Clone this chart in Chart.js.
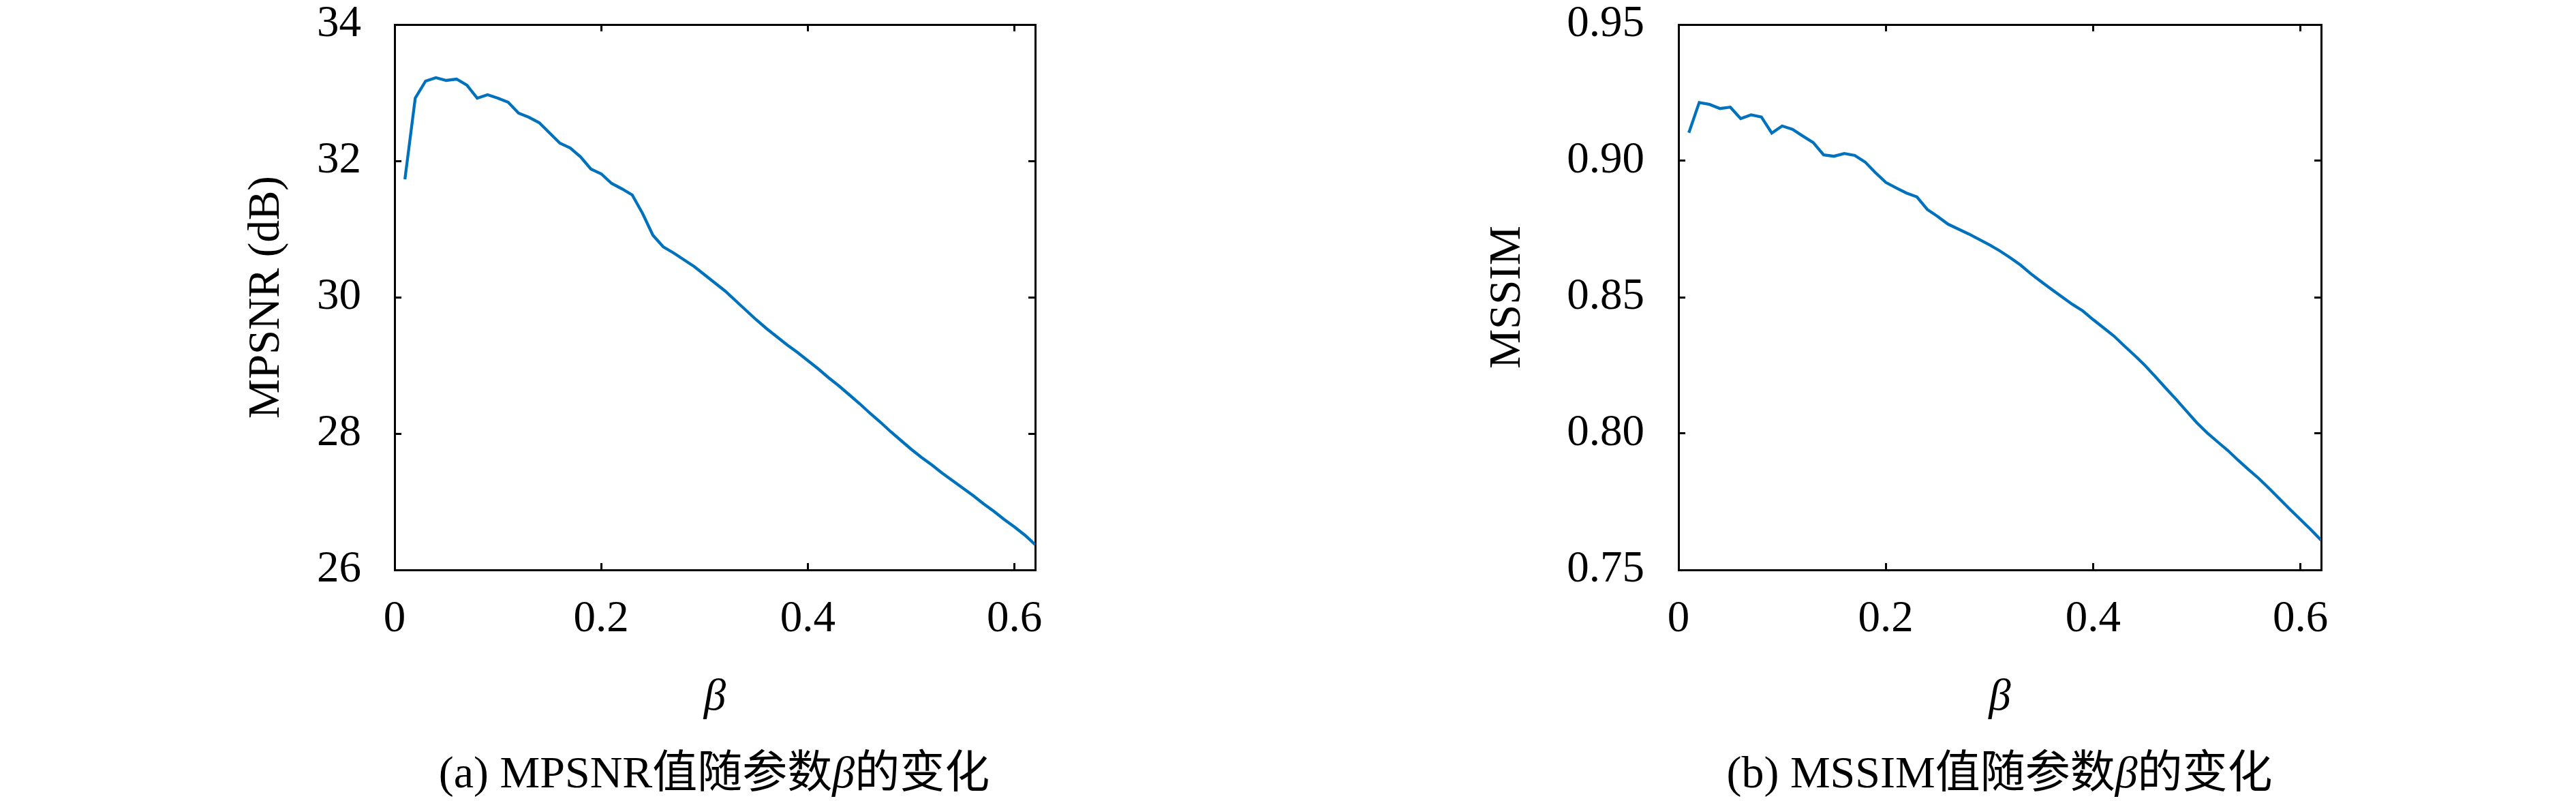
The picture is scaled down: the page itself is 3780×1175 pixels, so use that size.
<!DOCTYPE html>
<html>
<head>
<meta charset="utf-8">
<script src="https://cdn.jsdelivr.net/npm/chart.js@4/dist/chart.umd.min.js"></script>
<style>
  html, body { margin: 0; padding: 0; background: #fff; }
  body { width: 3780px; height: 1175px; position: relative; overflow: hidden; }
  canvas { position: absolute; top: 0; }
  .cap { position: absolute; top: 1100px; width: 1200px; height: 70px; line-height: 65px;
         text-align: center; font-size: 66px; color: #000;
         font-family: "Liberation Serif", "Noto Sans CJK SC", serif; white-space: nowrap; }
  .cap i { font-style: italic; }
</style>
</head>
<body>
<canvas id="c1" width="1890" height="1175" style="left:0px"></canvas>
<canvas id="c2" width="1890" height="1175" style="left:1890px"></canvas>
<div class="cap" id="cap1" style="left:448px"></div>
<div class="cap" id="cap2" style="left:2334px"></div>
<script>
// ---- data ----
const beta = [0.01,0.02,0.03,0.04,0.05,0.06,0.07,0.08,0.09,0.10,
              0.11,0.12,0.13,0.14,0.15,0.16,0.17,0.18,0.19,0.20,
              0.21,0.22,0.23,0.24,0.25,0.26,0.27,0.28,0.29,0.30,
              0.31,0.32,0.33,0.34,0.35,0.36,0.37,0.38,0.39,0.40,
              0.41,0.42,0.43,0.44,0.45,0.46,0.47,0.48,0.49,0.50,
              0.51,0.52,0.53,0.54,0.55,0.56,0.57,0.58,0.59,0.60,
              0.61,0.62];
const mpsnr = [31.73,32.92,33.17,33.22,33.18,33.20,33.11,32.92,32.97,32.92,
               32.86,32.70,32.64,32.56,32.41,32.26,32.19,32.06,31.88,31.81,
               31.67,31.59,31.50,31.23,30.91,30.74,30.65,30.55,30.45,30.33,
               30.21,30.09,29.95,29.81,29.67,29.54,29.42,29.30,29.19,29.07,
               28.95,28.82,28.70,28.57,28.44,28.30,28.17,28.03,27.90,27.77,
               27.65,27.54,27.42,27.31,27.20,27.09,26.97,26.86,26.74,26.63,
               26.51,26.37];
const mssim = [0.9103,0.9214,0.9207,0.9192,0.9197,0.9155,0.9169,0.9161,0.9102,0.9128,
               0.9116,0.9091,0.9067,0.9022,0.9017,0.9027,0.9020,0.8996,0.8957,0.8921,
               0.8901,0.8882,0.8868,0.8822,0.8796,0.8768,0.8750,0.8732,0.8712,0.8692,
               0.8670,0.8645,0.8618,0.8586,0.8557,0.8529,0.8501,0.8474,0.8450,0.8418,
               0.8388,0.8358,0.8322,0.8287,0.8250,0.8209,0.8167,0.8126,0.8083,0.8040,
               0.8003,0.7970,0.7938,0.7902,0.7868,0.7835,0.7798,0.7760,0.7722,0.7685,
               0.7648,0.7609];
const xTicks = [0, 0.2, 0.4, 0.6];
const xRange = [0, 0.62];
const yTicksA = [26, 28, 30, 32, 34];
const yRangeA = [26, 34];
const yTicksB = [0.75, 0.80, 0.85, 0.90, 0.95];
const yRangeB = [0.75, 0.95];
const yTitleA = 'MPSNR (dB)';
const yTitleB = 'MSSIM';
const xTitle = 'β';
const captionA = ['(a) MPSNR', '值随参数', 'β', '的变化'];
const captionB = ['(b) MSSIM', '值随参数', 'β', '的变化'];

// ---- rendering ----
const FONT = "'Liberation Serif', 'Times New Roman', serif";
const FS = 65;
const LINE_COLOR = '#0072BD';
Chart.defaults.font.family = FONT;
Chart.defaults.color = '#000';

function fixTicks(list) {
  return function (scale) { scale.ticks = list.map(v => ({ value: v })); };
}
function zeroPad(s) {
  s.paddingTop = 0; s.paddingBottom = 0; s.paddingLeft = 0; s.paddingRight = 0;
}

function makeChart(id, values, yTicks, yRange, yTitle, yDecimals, geo) {
  const ctx = document.getElementById(id).getContext('2d');
  const gridCommon = { display: true, drawOnChartArea: false, drawTicks: true,
                       tickLength: -10, tickWidth: 3, color: '#000' };
  const borderCommon = { display: true, color: '#000', width: 3 };
  return new Chart(ctx, {
    type: 'line',
    data: {
      datasets: [{
        data: beta.map((b, i) => ({ x: b, y: values[i] })),
        borderColor: LINE_COLOR,
        borderWidth: 4.3,
        pointRadius: 0,
        tension: 0,
        fill: false
      }]
    },
    options: {
      responsive: false,
      animation: false,
      events: [],
      layout: { padding: { left: 0, top: geo.top, right: geo.right, bottom: 0 } },
      plugins: { legend: { display: false }, tooltip: { enabled: false }, title: { display: false } },
      scales: {
        x: {
          type: 'linear', position: 'bottom', min: xRange[0], max: xRange[1],
          afterBuildTicks: fixTicks(xTicks),
          afterFit: s => { s.height = geo.xH; zeroPad(s); },
          grid: gridCommon, border: borderCommon,
          ticks: { padding: 44, maxRotation: 0, autoSkip: false,
                   font: { size: FS }, callback: v => String(v) },
          title: { display: true, text: xTitle, font: { size: FS, style: 'italic' },
                   padding: { top: 0, bottom: 112 } }
        },
        x2: {
          type: 'linear', position: 'top', min: xRange[0], max: xRange[1],
          afterBuildTicks: fixTicks(xTicks),
          afterFit: s => { s.height = 0; zeroPad(s); },
          grid: gridCommon, border: borderCommon,
          ticks: { display: false }
        },
        y: {
          type: 'linear', position: 'left', min: yRange[0], max: yRange[1],
          afterBuildTicks: fixTicks(yTicks),
          afterFit: s => { s.width = geo.yW; zeroPad(s); },
          grid: gridCommon, border: borderCommon,
          ticks: { padding: geo.yPad, autoSkip: false, font: { size: FS },
                   callback: v => Number(v).toFixed(yDecimals) },
          title: { display: true, text: yTitle, font: { size: FS },
                   padding: { top: geo.yTitlePad, bottom: 0 } }
        },
        y2: {
          type: 'linear', position: 'right', min: yRange[0], max: yRange[1],
          afterBuildTicks: fixTicks(yTicks),
          afterFit: s => { s.width = 0; zeroPad(s); },
          grid: gridCommon, border: borderCommon,
          ticks: { display: false }
        }
      }
    }
  });
}

makeChart('c1', mpsnr, yTicksA, yRangeA, yTitleA, 0,
          { top: 36, right: 1890 - 1519, xH: 1175 - 836, yW: 579, yPad: 59, yTitlePad: 353 });
makeChart('c2', mssim, yTicksB, yRangeB, yTitleB, 2,
          { top: 36, right: 1890 - 1516, xH: 1175 - 836, yW: 573, yPad: 60, yTitlePad: 284 });

function setCaption(id, parts) {
  const el = document.getElementById(id);
  el.innerHTML = '';
  el.appendChild(document.createTextNode(parts[0]));
  el.appendChild(document.createTextNode(parts[1]));
  const i = document.createElement('i');
  i.textContent = parts[2];
  el.appendChild(i);
  el.appendChild(document.createTextNode(parts[3]));
}
setCaption('cap1', captionA);
setCaption('cap2', captionB);
</script>
</body>
</html>
